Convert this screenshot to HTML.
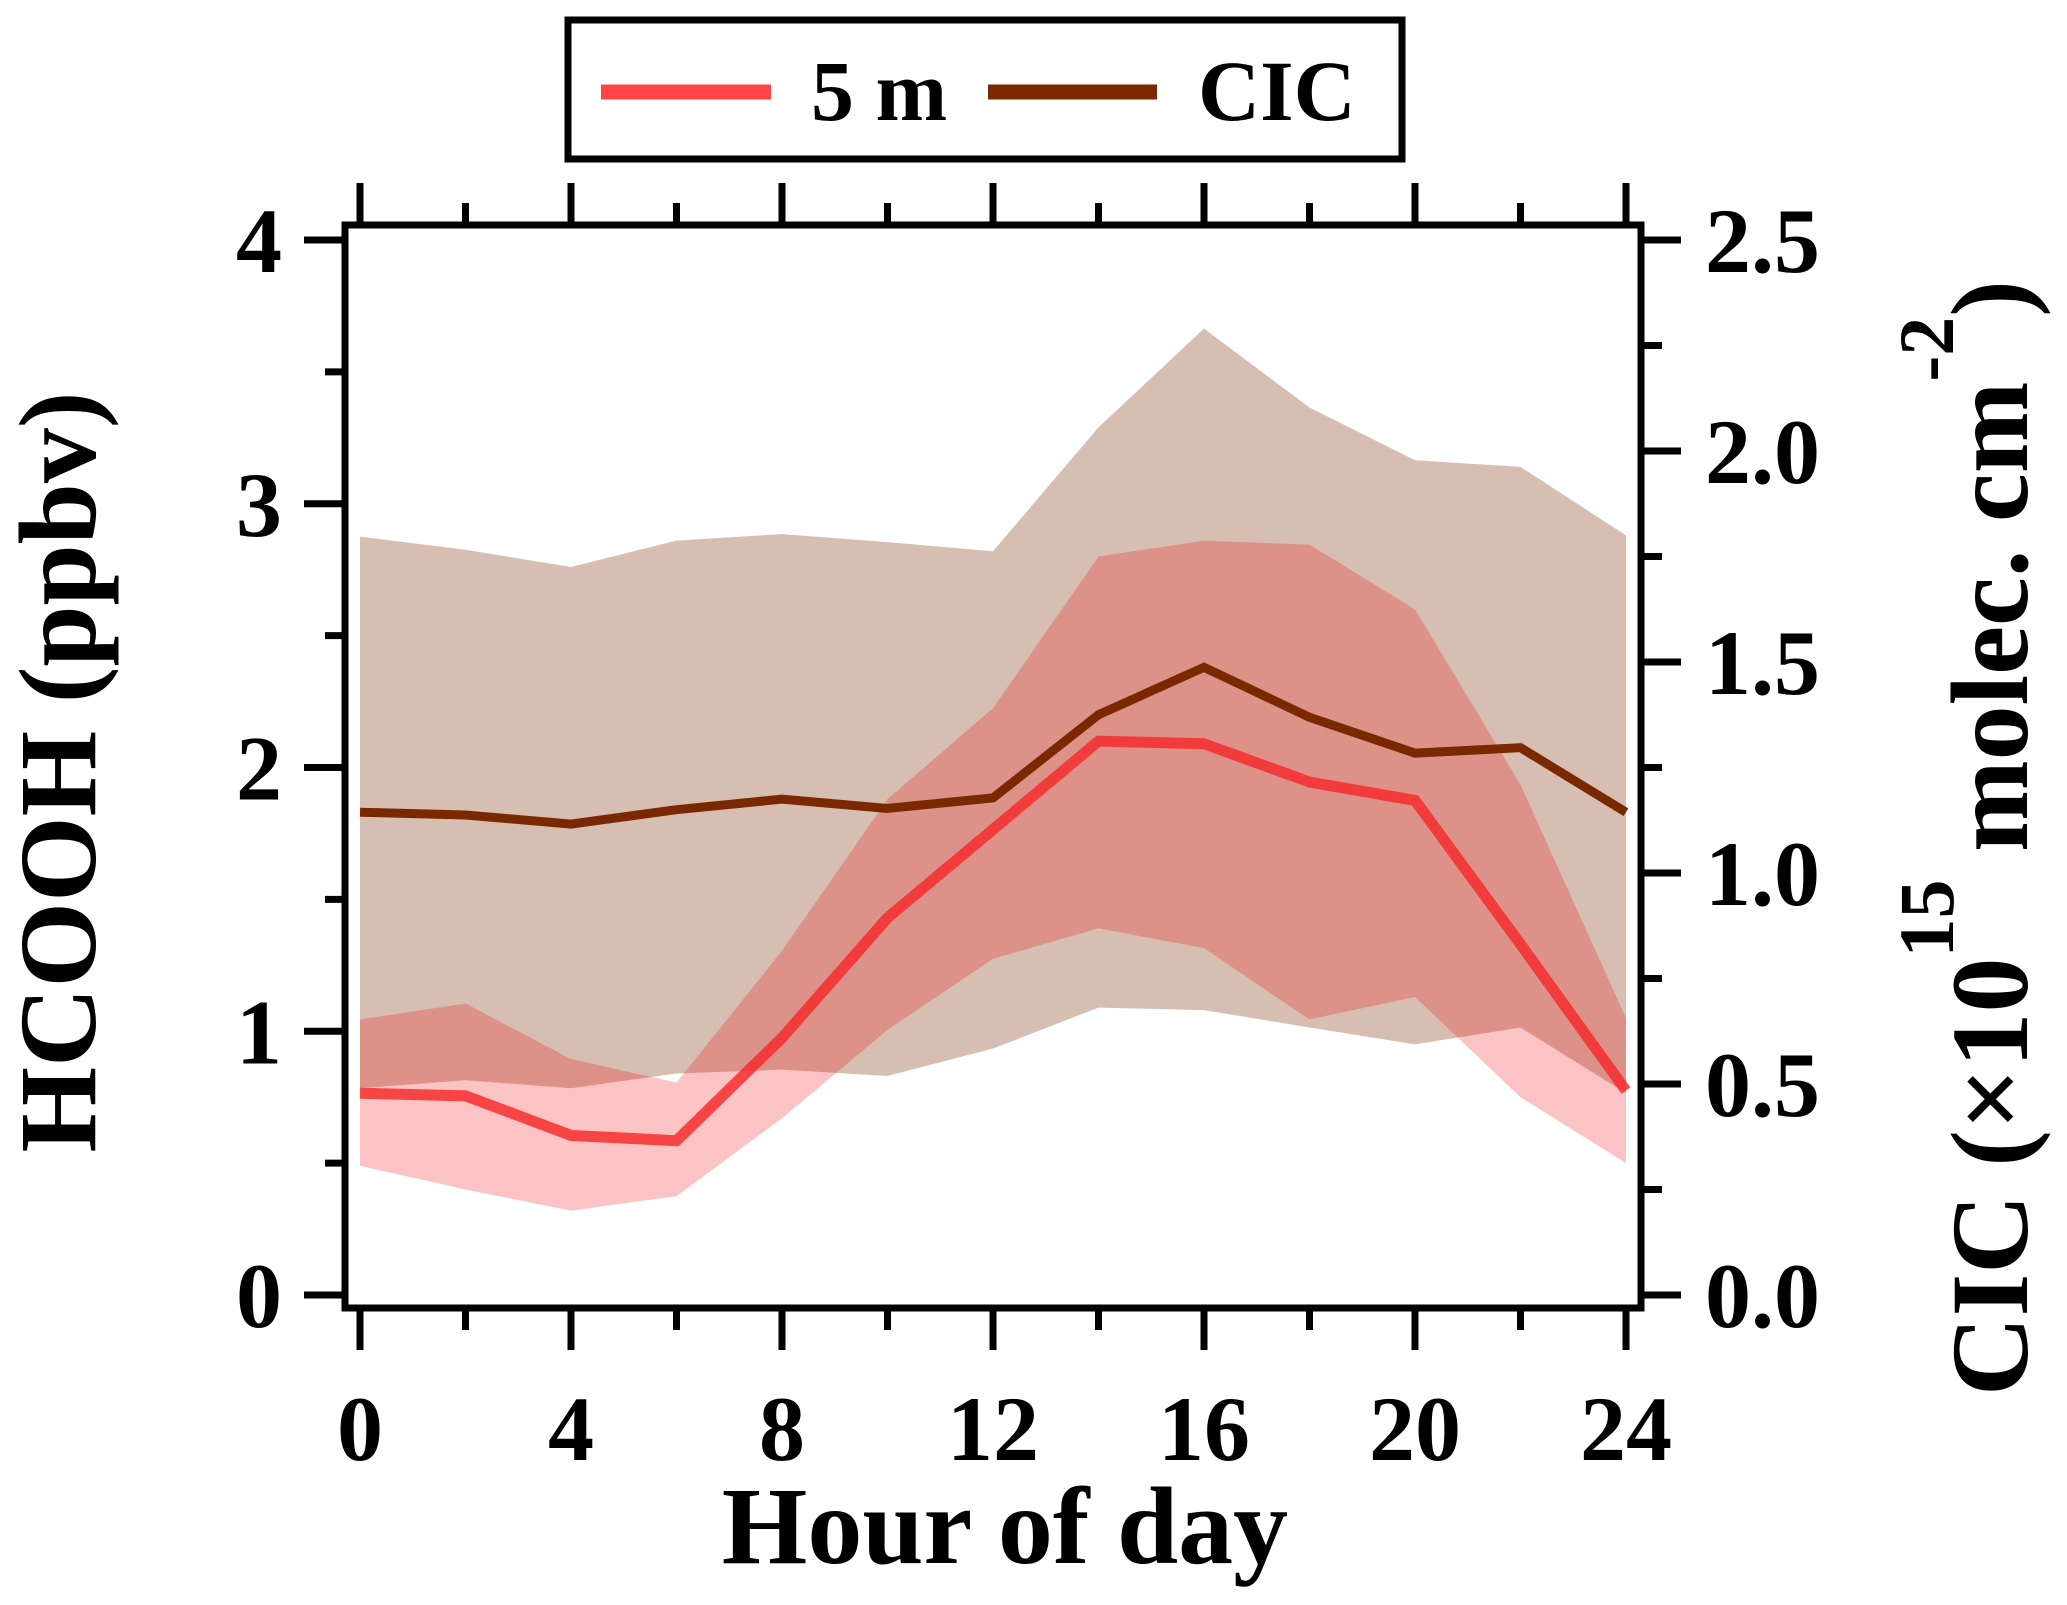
<!DOCTYPE html>
<html><head><meta charset="utf-8"><style>
html,body{margin:0;padding:0;background:#fff;}
svg{display:block;}
text{font-family:"Liberation Serif","Times New Roman",serif;font-weight:bold;fill:#000;}
</style></head><body>
<svg id="chart" width="2067" height="1605" viewBox="0 0 2067 1605" xmlns="http://www.w3.org/2000/svg">
<g id="bands"></g>
<g id="lines"></g>
<g id="axes"></g>
<text x="1005" y="1563" font-size="110" text-anchor="middle">Hour of day</text>
<text transform="translate(95,772) rotate(-90)" font-size="110" text-anchor="middle">HCOOH (ppbv)</text>
<text transform="translate(2027,838) rotate(-90)" font-size="110" text-anchor="middle">CIC (×10<tspan dy="-74" font-size="78">15</tspan><tspan dy="74"> molec. cm</tspan><tspan dy="-74" font-size="78">-2</tspan><tspan dy="74">)</tspan></text>
<g>
<rect x="568" y="20" width="834" height="139" fill="#fff" stroke="#000" stroke-width="7"/>
<line x1="601" y1="92" x2="771" y2="92" stroke="#ff4444" stroke-width="15"/>
<text x="811" y="120" font-size="86">5 m</text>
<line x1="988" y1="92" x2="1157" y2="92" stroke="#7a2800" stroke-width="15"/>
<text x="1198" y="120" font-size="86">CIC</text>
</g>
</svg>
<script>
const hours = [0,2,4,6,8,10,12,14,16,18,20,22,24];
const m5 = [0.765,0.755,0.605,0.585,0.975,1.43,1.765,2.1,2.09,1.945,1.875,1.33,0.775];
const m5Upper = [1.045,1.105,0.895,0.805,1.305,1.88,2.225,2.8,2.86,2.845,2.6,1.935,1.05];
const m5Lower = [0.49,0.40,0.32,0.375,0.67,1.005,1.275,1.39,1.315,1.045,1.13,0.75,0.5];
const cic = [1.144,1.1375,1.116,1.15,1.175,1.153,1.178,1.375,1.4875,1.369,1.284,1.297,1.144];
const cicUpper = [1.797,1.766,1.725,1.7875,1.803,1.784,1.7625,2.056,2.29,2.103,1.978,1.9625,1.8];
const cicLower = [0.49,0.509,0.49,0.525,0.534,0.519,0.584,0.681,0.675,0.634,0.594,0.634,0.478];
const xTicks = [0,4,8,12,16,20,24];
const yLeftTicks = [0,1,2,3,4];
const yRightTicks = ["0.0","0.5","1.0","1.5","2.0","2.5"];

const NS="http://www.w3.org/2000/svg";
const X0=360,X1=1626,YB=1295,YT=240;
const xs=h=>X0+(X1-X0)*h/24;
const yl=v=>YB-(YB-YT)*v/4;
const yr=v=>YB-(YB-YT)*v/2.5;
function mk(tag,attrs,parent){const e=document.createElementNS(NS,tag);for(const k in attrs)e.setAttribute(k,attrs[k]);parent.appendChild(e);return e;}
const bands=document.getElementById('bands'),lines=document.getElementById('lines'),axes=document.getElementById('axes');
function bandPath(up,lo,f){let d='';hours.forEach((h,i)=>{d+=(i?'L':'M')+xs(h)+','+f(up[i]);});for(let i=hours.length-1;i>=0;i--)d+='L'+xs(hours[i])+','+f(lo[i]);return d+'Z';}
function linePath(v,f){return hours.map((h,i)=>(i?'L':'M')+xs(h)+','+f(v[i])).join('');}
let e;
e=mk('path',{d:bandPath(cicUpper,cicLower,yr),fill:'#7b2800','fill-opacity':0.3},bands);


e=mk('path',{d:bandPath(m5Upper,m5Lower,yl),fill:'#f01010','fill-opacity':0.25},bands);


e=mk('path',{d:linePath(cic,yr),fill:'none',stroke:'#7a2800','stroke-width':9,'stroke-linejoin':'miter'},lines);


e=mk('path',{d:linePath(m5,yl),fill:'none',stroke:'#f52a2a','stroke-opacity':0.82,'stroke-width':11},lines);


e=mk('rect',{x:345,y:225,width:1296,height:1083,fill:'none',stroke:'#000','stroke-width':7},axes);


for(let h=0;h<=24;h+=2){const maj=h%4===0,len=maj?42:22;
 e=mk('line',{x1:xs(h),x2:xs(h),y1:1308,y2:1308+len,stroke:'#000','stroke-width':7},axes);
 
 
 e=mk('line',{x1:xs(h),x2:xs(h),y1:225,y2:225-len,stroke:'#000','stroke-width':7},axes);
 
 }
xTicks.forEach(h=>{e=mk('text',{x:xs(h),y:1460,'font-size':92,'text-anchor':'middle'},axes);e.textContent=h;
 
 });
for(let v=0;v<=4;v+=0.5){const maj=v%1===0,len=maj?41:20;
 e=mk('line',{x1:345,x2:345-len,y1:yl(v),y2:yl(v),stroke:'#000','stroke-width':7},axes);
 
 }
yLeftTicks.forEach(v=>{e=mk('text',{x:282,y:yl(v)+32,'font-size':92,'text-anchor':'end'},axes);e.textContent=v;
 
 });
for(let v=0;v<=2.5001;v+=0.25){const maj=Math.abs(v*2-Math.round(v*2))<1e-6,len=maj?40:21;
 e=mk('line',{x1:1641,x2:1641+len,y1:yr(v),y2:yr(v),stroke:'#000','stroke-width':7},axes);
 
 }
yRightTicks.forEach(s=>{e=mk('text',{x:1705,y:yr(parseFloat(s))+32,'font-size':92,'text-anchor':'start'},axes);e.textContent=s;
 
 });
</script>
</body></html>
